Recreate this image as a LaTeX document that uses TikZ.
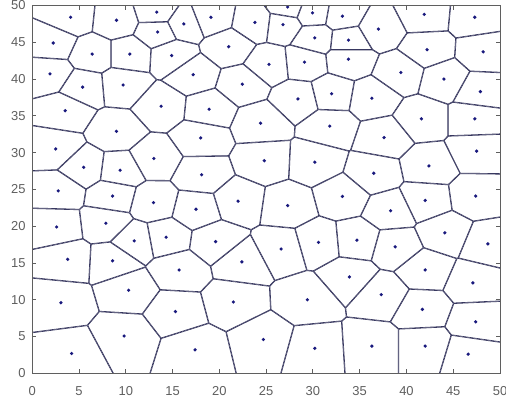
\documentclass[tikz,border=0pt]{standalone}
\usepackage{fontspec}
\setmainfont{Liberation Sans}
\definecolor{celline}{RGB}{55,55,95}
\definecolor{sitedot}{RGB}{25,25,125}
\definecolor{axisgray}{RGB}{95,95,95}
\tikzset{celledge/.style={draw=celline,line width=1.3bp},
  sitemark/.style={circle,fill=sitedot,inner sep=0pt,minimum size=3.6bp},
  axisline/.style={draw=axisgray,line width=0.9bp},
  ticklab/.style={text=axisgray,font=\fontsize{13}{13}\selectfont,inner sep=1bp}}
\def\sitelist{4.1/48.4, 9.0/48.0, 13.3/49.1, 13.4/46.4, 2.24/44.9, 6.4/43.4,
  10.43/43.4, 14.9/43.2, 1.89/40.7, 5.38/38.9, 9.71/39.2, 13.77/36.3,
  3.52/35.7, 9.0/32.9, 27.3/49.8, 29.96/49.0, 33.15/48.55, 16.2/47.5,
  19.1/48.4, 23.8/47.7, 26.8/47.4, 30.2/45.6, 33.8/45.3, 21.0/44.4,
  25.3/42.0, 29.1/42.3, 33.8/42.7, 17.2/40.6, 22.45/39.3, 28.4/37.3,
  32.0/38.0, 18.9/35.9, 24.4/34.0, 31.8/33.6, 18.0/32.0, 37.0/46.8,
  41.9/48.8, 47.3/48.4, 42.2/44.0, 48.2/43.7, 39.4/40.9, 44.0/40.0,
  47.9/38.3, 36.3/37.4, 41.6/34.6, 47.3/34.6, 37.6/32.05, 2.5/30.5,
  13.0/29.2, 5.49/28.0, 9.39/27.6, 2.77/24.8, 8.58/24.1, 12.96/23.2,
  2.6/19.9, 7.87/20.4, 10.9/18.0, 14.3/18.5, 3.78/15.5, 8.58/15.3,
  24.8/28.9, 30.2/28.7, 18.1/27.0, 22.0/23.4, 27.3/22.8, 33.15/24.05,
  17.5/22.3, 19.6/17.9, 26.6/16.9, 30.6/17.8, 22.4/15.15, 15.7/14.05,
  47.5/30.2, 42.4/28.2, 36.5/27.2, 42.0/23.5, 47.4/24.1, 38.3/22.1,
  34.7/18.1, 38.8/17.2, 44.1/19.1, 48.7/17.6, 42.0/14.05, 3.06/9.6,
  10.3/11.3, 15.3/8.4, 9.82/5.07, 4.2/2.7, 21.5/9.7, 29.4/10.0,
  24.7/4.6, 30.2/3.4, 17.4/3.2, 33.9/13.1, 47.1/12.3, 37.3/10.7,
  41.7/8.7, 47.4/7.0, 36.3/3.7, 42.0/3.7, 46.6/2.6}

\begin{document}
\begin{tikzpicture}[x=9.354bp,y=7.356bp]
\useasboundingbox (-3.453,-3.766) rectangle (50.64,50.75);
\fill[white] (-3.453,-3.766) rectangle (50.64,50.75);

% each cell = intersection of half-planes, edges drawn inside it
\begin{scope}
\clip (0,0) rectangle (50,50);
\foreach \xa/\ya in \sitelist {
  \begin{scope}
  \gdef\bislines{}
  \foreach \xb/\yb in \sitelist {
    \pgfmathsetmacro\pdist{veclen(\xb-\xa,\yb-\ya)}
    \ifdim\pdist pt>0.01pt\relax\ifdim\pdist pt<16pt\relax
      \pgfmathsetmacro\ux{(\xb-\xa)/\pdist}
      \pgfmathsetmacro\uy{(\yb-\ya)/\pdist}
      \pgfmathsetmacro\mx{(\xa+\xb)/2}
      \pgfmathsetmacro\my{(\ya+\yb)/2}
      \pgfmathsetmacro\ax{\mx-80*\uy}
      \pgfmathsetmacro\ay{\my+80*\ux}
      \pgfmathsetmacro\bx{\mx+80*\uy}
      \pgfmathsetmacro\by{\my-80*\ux}
      \pgfmathsetmacro\cx{\bx-80*\ux}
      \pgfmathsetmacro\cy{\by-80*\uy}
      \pgfmathsetmacro\ex{\ax-80*\ux}
      \pgfmathsetmacro\ey{\ay-80*\uy}
      \clip (\ax,\ay) -- (\bx,\by) -- (\cx,\cy) -- (\ex,\ey) -- cycle;
      \xdef\bislines{\bislines (\ax,\ay) -- (\bx,\by)}
    \fi\fi
  }
  \edef\celldraw{\noexpand\draw[celledge] \bislines;}\celldraw
  \end{scope}
}
\end{scope}

\foreach \xa/\ya [count=\i] in \sitelist
  \node[sitemark] (s\i) at (\xa,\ya) {};

% axes box, ticks, labels
\draw[axisline] (0,0) rectangle (50,50);
\foreach \k in {0,5,...,50} {
  \draw[axisline] (\k,0) -- ++(0,0.55) (\k,50) -- ++(0,-0.55);
  \draw[axisline] (0,\k) -- ++(0.43,0) (50,\k) -- ++(-0.43,0);
  \node[ticklab] (xl\k) at (\k,-2.4) {\k};
  \node[ticklab,anchor=east] (yl\k) at (-0.6,\k) {\k};
}
\end{tikzpicture}
\end{document}
